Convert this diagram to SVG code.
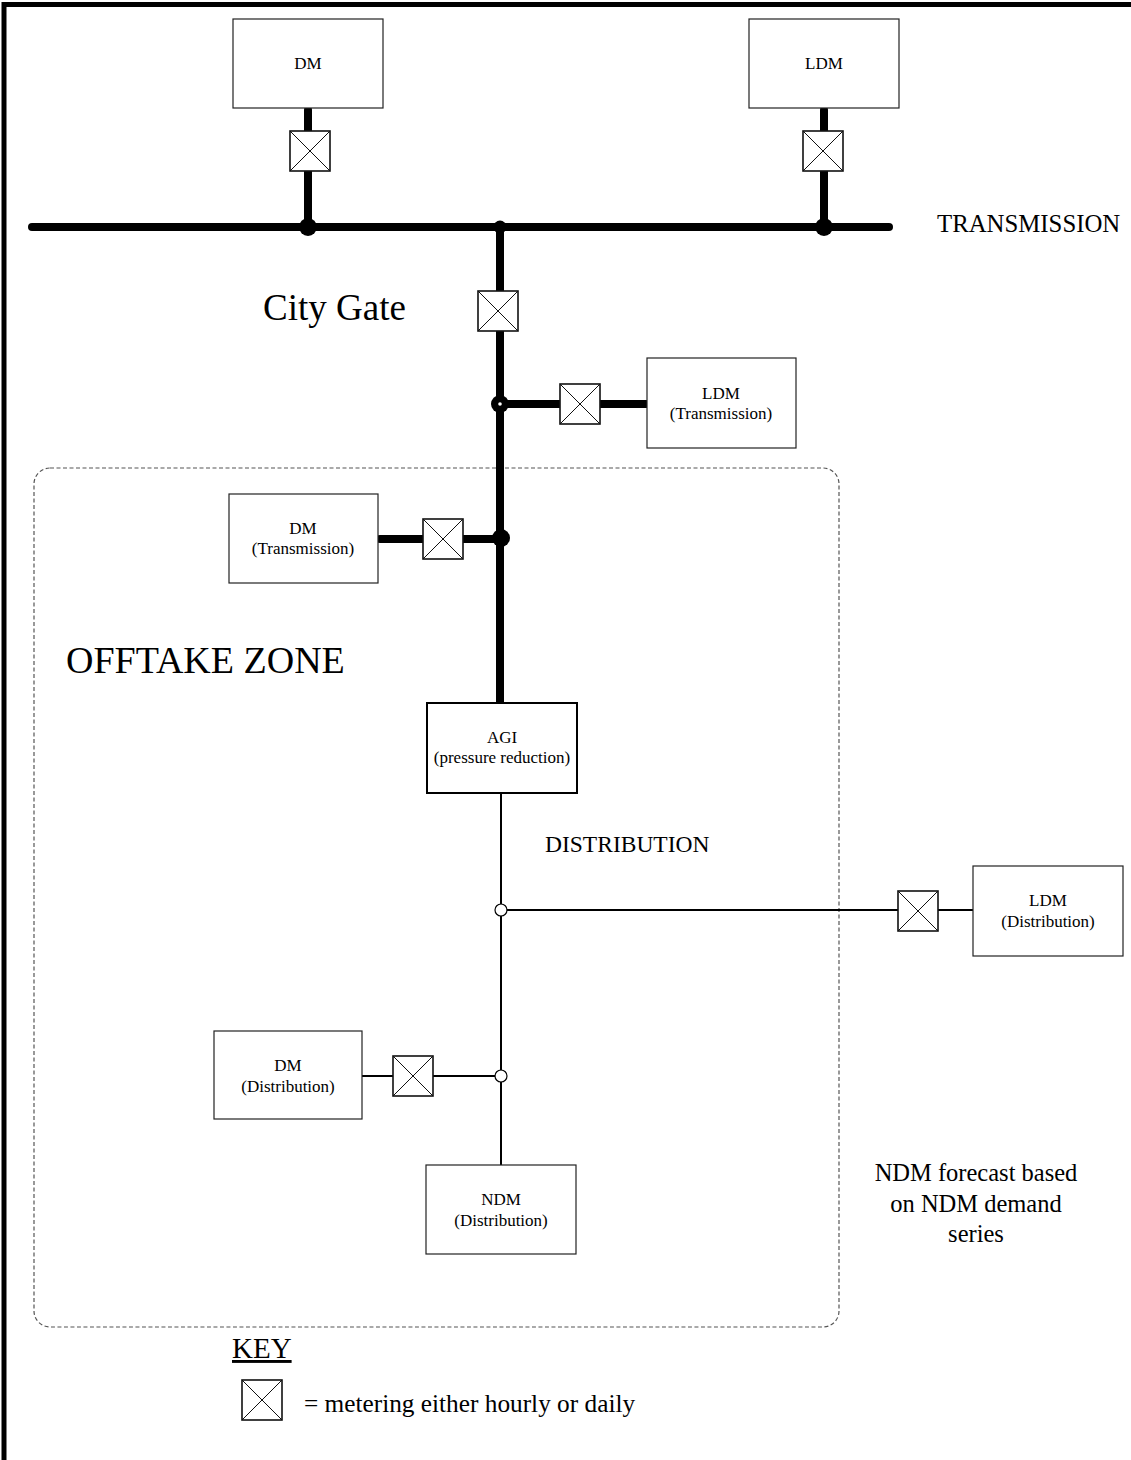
<svg xmlns="http://www.w3.org/2000/svg" width="1131" height="1460" viewBox="0 0 1131 1460">
<style>
text{font-family:"Liberation Serif","Times New Roman",serif;fill:#000}
.box{fill:#fff;stroke:#222;stroke-width:1.2}
.lbl{font-size:17px;text-anchor:middle}
.big{font-size:37px}
.thick{stroke:#000;stroke-width:8;stroke-linecap:round;fill:none}
.thin{stroke:#000;stroke-width:2;fill:none}
.mbox{fill:#fff;stroke:#111;stroke-width:1.6}
.mx{stroke:#111;stroke-width:1}
</style>
<defs>
<g id="meter">
<rect class="mbox" x="-20" y="-20" width="40" height="40"/>
<path class="mx" d="M-20,-20 L20,20 M20,-20 L-20,20"/>
</g>
</defs>
<rect width="1131" height="1460" fill="#fff"/>
<path d="M4,1460 V4.5 H1131" fill="none" stroke="#000" stroke-width="5"/>
<rect id="offtake-zone" x="34" y="468" width="805" height="859" rx="16" fill="none" stroke="#555" stroke-width="1.2" stroke-dasharray="4 2.5"/>

<g id="connectors">
<path class="thick" d="M32,227 H889"/>
<path class="thick" stroke-width="7" d="M308,110 V227"/>
<path class="thick" stroke-width="7" d="M824,110 V227"/>
<path class="thick" d="M500,227 V703"/>
<path class="thick" d="M500,404 H646"/>
<path class="thick" d="M380,539 H500"/>
<path class="thin" d="M501,793 V1165"/>
<path class="thin" d="M501,910 H973"/>
<path class="thin" d="M362,1076 H501"/>
<circle cx="308" cy="227" r="9"/>
<circle cx="500" cy="227" r="6.5"/>
<circle cx="824" cy="227" r="9"/>
<circle cx="500" cy="404" r="9"/>
<circle cx="500" cy="404" r="1.8" fill="#fff"/>
<circle cx="501" cy="538" r="9"/>
<circle cx="501" cy="910" r="6" fill="#fff" stroke="#000" stroke-width="1.2"/>
<circle cx="501" cy="1076" r="6" fill="#fff" stroke="#000" stroke-width="1.2"/>
<use href="#meter" x="310" y="151"/>
<use href="#meter" x="823" y="151"/>
<use href="#meter" x="498" y="311"/>
<use href="#meter" x="580" y="404"/>
<use href="#meter" x="443" y="539"/>
<use href="#meter" x="918" y="911"/>
<use href="#meter" x="413" y="1076"/>
</g>

<g id="node-dm">
<rect class="box" x="233" y="19" width="150" height="89"/>
<text class="lbl" x="308" y="69">DM</text>
</g>
<g id="node-ldm">
<rect class="box" x="749" y="19" width="150" height="89"/>
<text class="lbl" x="824" y="69">LDM</text>
</g>
<g id="node-ldm-transmission">
<rect class="box" x="647" y="358" width="149" height="90"/>
<text class="lbl" x="721" y="399">LDM</text>
<text class="lbl" x="721" y="419">(Transmission)</text>
</g>
<g id="node-dm-transmission">
<rect class="box" x="229" y="494" width="149" height="89"/>
<text class="lbl" x="303" y="534">DM</text>
<text class="lbl" x="303" y="554">(Transmission)</text>
</g>
<g id="node-agi">
<rect x="427" y="703" width="150" height="90" fill="#fff" stroke="#000" stroke-width="2"/>
<text class="lbl" x="502" y="743">AGI</text>
<text class="lbl" x="502" y="763">(pressure reduction)</text>
</g>
<g id="node-ldm-distribution">
<rect class="box" x="973" y="866" width="150" height="90"/>
<text class="lbl" x="1048" y="906">LDM</text>
<text class="lbl" x="1048" y="927">(Distribution)</text>
</g>
<g id="node-dm-distribution">
<rect class="box" x="214" y="1031" width="148" height="88"/>
<text class="lbl" x="288" y="1071">DM</text>
<text class="lbl" x="288" y="1092">(Distribution)</text>
</g>
<g id="node-ndm-distribution">
<rect class="box" x="426" y="1165" width="150" height="89"/>
<text class="lbl" x="501" y="1205">NDM</text>
<text class="lbl" x="501" y="1226">(Distribution)</text>
</g>

<g id="labels">
<text x="937" y="232" font-size="24.8">TRANSMISSION</text>
<text x="263" y="320" class="big">City Gate</text>
<text x="66" y="673" font-size="38">OFFTAKE ZONE</text>
<text x="545" y="852" font-size="23.5">DISTRIBUTION</text>
<text font-size="24.5" text-anchor="middle"><tspan x="976" y="1181">NDM forecast based</tspan><tspan x="976" y="1212">on NDM demand</tspan><tspan x="976" y="1242">series</tspan></text>
</g>

<g id="key">
<text x="232" y="1358" font-size="29" text-decoration="underline">KEY</text>
<use href="#meter" x="262" y="1400"/>
<text x="304" y="1412" font-size="25.3">= metering either hourly or daily</text>
</g>
</svg>
